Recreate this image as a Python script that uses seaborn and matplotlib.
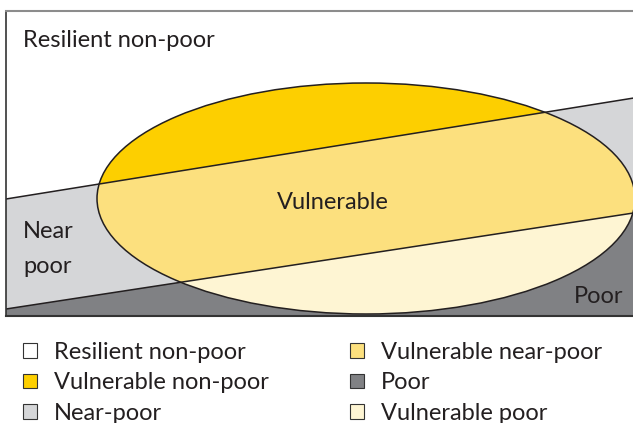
import numpy as np
import pandas as pd
import matplotlib
matplotlib.use("Agg")
import matplotlib.pyplot as plt
from matplotlib.patches import Ellipse, Patch
import seaborn as sns

# ---- data ----
categories = ["Resilient non-poor", "Vulnerable non-poor", "Near-poor",
              "Vulnerable near-poor", "Poor", "Vulnerable poor"]
colors = ["#FFFFFF", "#FDCF00", "#D5D6D8", "#FCE07E", "#808184", "#FEF5D3"]

boundary_x = [6, 640]
upper_boundary_y = [199, 97]    # top of the near-poor band
lower_boundary_y = [309, 212]   # top of the poor area

ellipse_center = (366, 198.5)
ellipse_width = 538
ellipse_height = 231

region_labels = ["Resilient non-poor", "Vulnerable", "Near", "poor", "Poor"]

# ---- style ----
sns.set_style("white")
plt.rcParams["font.family"] = ["Lato", "DejaVu Sans"]
FS = 17
EDGE = "#231F20"

W, H = 633, 423
fig = plt.figure(figsize=(W / 100, H / 100), dpi=100)
x0, x1, y0, y1 = 6, 640, 11, 316
ax = fig.add_axes([x0 / W, 1 - y1 / H, (x1 - x0) / W, (y1 - y0) / H])
ax.set_xlim(x0, x1)
ax.set_ylim(y1, y0)

bx = np.array(boundary_x, dtype=float)
uy = np.array(upper_boundary_y, dtype=float)
ly = np.array(lower_boundary_y, dtype=float)

# background bands
ax.fill_between(bx, uy, ly, color=colors[2], lw=0, zorder=1)
ax.fill_between(bx, ly, y1, color=colors[4], lw=0, zorder=1)

# ellipse fills
ell_base = Ellipse(ellipse_center, ellipse_width, ellipse_height,
                   facecolor=colors[3], edgecolor="none", zorder=2)
ax.add_patch(ell_base)
clip_e = Ellipse(ellipse_center, ellipse_width, ellipse_height,
                 transform=ax.transData, facecolor="none", edgecolor="none")
top_fill = ax.fill_between(bx, y0, uy, color=colors[1], lw=0, zorder=3)
top_fill.set_clip_path(clip_e)
clip_e2 = Ellipse(ellipse_center, ellipse_width, ellipse_height,
                  transform=ax.transData, facecolor="none", edgecolor="none")
bot_fill = ax.fill_between(bx, ly, y1, color=colors[5], lw=0, zorder=3)
bot_fill.set_clip_path(clip_e2)

# boundary lines
lines_df = pd.DataFrame({
    "x": list(bx) * 2,
    "y": list(uy) + list(ly),
    "line": ["upper"] * 2 + ["lower"] * 2,
})
sns.lineplot(data=lines_df, x="x", y="y", units="line", estimator=None,
             color=EDGE, lw=1.1, ax=ax, legend=False, zorder=4, sort=False)
ax.add_patch(Ellipse(ellipse_center, ellipse_width, ellipse_height,
                     facecolor="none", edgecolor=EDGE, lw=1.1, zorder=5))

ax.set_xlabel("")
ax.set_ylabel("")
ax.set_xticks([])
ax.set_yticks([])
ax.set_xlim(x0, x1)
ax.set_ylim(y1, y0)

ax.spines["right"].set_visible(False)
ax.spines["top"].set_color("#8C8C8C")
ax.spines["top"].set_linewidth(1.5)
ax.spines["left"].set_color("#333333")
ax.spines["left"].set_linewidth(1.2)
ax.spines["bottom"].set_color("#333333")
ax.spines["bottom"].set_linewidth(1.5)
for s in ax.spines.values():
    s.set_zorder(10)

txt_color = "#231F20"
ax.text(23, 47, region_labels[0], fontsize=FS, color=txt_color, va="baseline", ha="left", zorder=6)
ax.text(333, 209, region_labels[1], fontsize=FS, color=txt_color, va="baseline", ha="center", zorder=6)
ax.text(23, 238, region_labels[2], fontsize=FS, color=txt_color, va="baseline", ha="left", zorder=6)
ax.text(23, 273, region_labels[3], fontsize=FS, color=txt_color, va="baseline", ha="left", zorder=6)
ax.text(623, 303, region_labels[4], fontsize=FS, color=txt_color, va="baseline", ha="right", zorder=6)

handles = [Patch(facecolor=c, edgecolor="#333333", lw=0.8) for c in colors]
fig.legend(handles, categories, ncol=2, loc="upper left",
           bbox_to_anchor=(23 / W, 1 - 342 / H), frameon=False,
           fontsize=FS, handlelength=0.58, handleheight=0.58,
           handletextpad=0.72, columnspacing=3.45, labelspacing=0.4,
           borderpad=0, borderaxespad=0, labelcolor=txt_color)

fig.savefig("out.png", dpi=100)
